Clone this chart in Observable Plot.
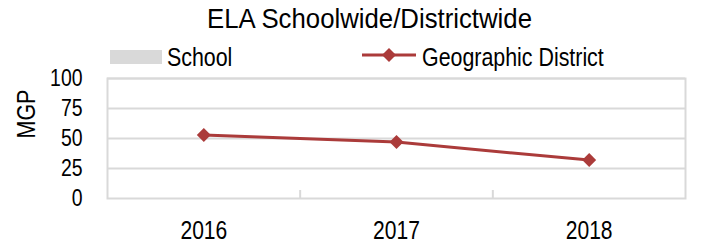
<!DOCTYPE html>
<html>
<head>
<meta charset="utf-8">
<script src="https://cdn.jsdelivr.net/npm/d3@7"></script>
<script src="https://cdn.jsdelivr.net/npm/@observablehq/plot@0.6"></script>
<style>
  html, body { margin: 0; padding: 0; background: #fff; }
  #wrap { position: relative; width: 707px; height: 243px; overflow: hidden; font-family: "Liberation Sans", Arial, sans-serif; color: #000; background: #fff; }
  #chart { position: absolute; left: 0; top: 40px; }
  #title { position: absolute; left: 0; width: 739px; top: 4px; text-align: center; font-size: 28px; line-height: 30px; white-space: nowrap; transform: scaleX(0.92); transform-origin: 369.5px 0; }
  .leg { position: absolute; top: 44px; font-size: 25px; line-height: 26px; white-space: nowrap; transform: scaleX(0.855); transform-origin: 0 0; }
</style>
</head>
<body>
<div id="wrap">
  <div id="chart"></div>
  <div id="title">ELA Schoolwide/Districtwide</div>
  <div style="position:absolute;left:110px;top:50px;width:52px;height:14px;background:#d9d9d9;"></div>
  <div class="leg" style="left:167px;">School</div>
  <svg style="position:absolute;left:360px;top:47px;" width="58" height="16">
    <line x1="2" y1="8" x2="56" y2="8" stroke="#ab3b3a" stroke-width="3"/>
    <path d="M29,1L36,8L29,15L22,8Z" fill="#ab3b3a"/>
  </svg>
  <div class="leg" style="left:422px;">Geographic District</div>
</div>
<script>
const years = [2016, 2017, 2018];
const district = [53, 47, 32];
const school = [];
const yTicks = [0, 25, 50, 75, 100];
const yearBounds = [2016.5, 2017.5];
const yLabel = "MGP";

const rows = years.map((y, i) => ({year: y, value: district[i]}));
const red = "#ab3b3a";
const grey = "#d9d9d9";

const plot = Plot.plot({
  width: 707,
  height: 203,
  marginTop: 38,
  marginBottom: 45,
  marginLeft: 107,
  marginRight: 22,
  style: {fontFamily: '"Liberation Sans", Arial, sans-serif', fontSize: "24px", color: "#000", background: "transparent"},
  x: {domain: [years[0] - 0.5, years[years.length - 1] + 0.5]},
  y: {domain: [0, 100]},
  marks: [
    Plot.gridY(yTicks.slice(1), {stroke: grey, strokeOpacity: 1, strokeWidth: 2}),
    Plot.frame({stroke: grey, strokeWidth: 2}),
    Plot.axisX(yearBounds, {tickSize: -8, tickFormat: () => "", stroke: grey, strokeWidth: 2, strokeOpacity: 1, label: null}),
    Plot.axisX(years, {tickSize: 0, tickPadding: 22, tickFormat: d => String(d), fontSize: 26, label: null}),
    Plot.axisY(yTicks, {tickSize: 0, tickPadding: 25, fontSize: 24, label: null}),
    Plot.text([yLabel], {text: d => d, frameAnchor: "left", rotate: -90, dx: -81, fontSize: 25}),
    Plot.line(rows, {x: "year", y: "value", stroke: red, strokeWidth: 3}),
    Plot.dot(rows, {x: "year", y: "value", symbol: "diamond2", r: 6.3, fill: red, stroke: "none"})
  ]
});

// condense chart text horizontally (narrow font look), keeping each text's anchor
d3.select(plot).selectAll("text").each(function () {
  const t = this.getAttribute("transform") || "";
  const k = this.textContent === yLabel ? 0.86 : 0.81;
  this.setAttribute("transform", `${t} scale(${k},1)`);
});
document.getElementById("chart").appendChild(plot);
</script>
</body>
</html>
